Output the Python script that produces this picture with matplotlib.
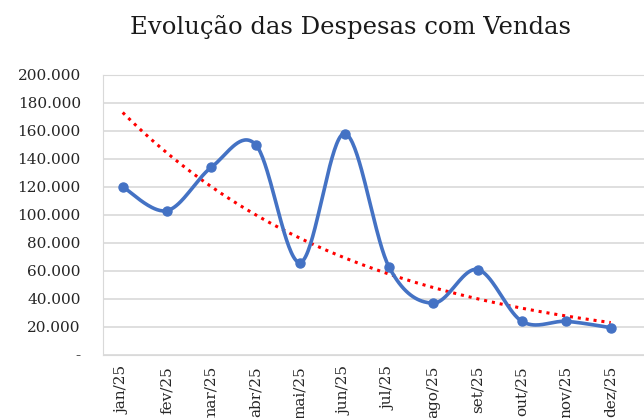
import numpy as np
import matplotlib
matplotlib.use("Agg")
import matplotlib.pyplot as plt
from matplotlib.ticker import FuncFormatter

# Monthly sales expenses (R$)
months = ['jan/25', 'fev/25', 'mar/25', 'abr/25', 'mai/25', 'jun/25',
          'jul/25', 'ago/25', 'set/25', 'out/25', 'nov/25', 'dez/25']
despesas = [120000, 103000, 134000, 150000, 66000, 158000,
            63000, 37000, 61000, 24000, 24000, 19500]

x = np.arange(1, len(months) + 1)
y = np.array(despesas, dtype=float)


# Excel-style smoothed line (Catmull-Rom as cubic Bezier)
def smooth(xs, ys, n=40):
    px = np.concatenate([[xs[0]], xs, [xs[-1]]])
    py = np.concatenate([[ys[0]], ys, [ys[-1]]])
    out_x, out_y = [], []
    t = np.linspace(0, 1, n)
    for i in range(1, len(px) - 2):
        p0 = np.array([px[i], py[i]])
        p3 = np.array([px[i + 1], py[i + 1]])
        c1 = p0 + (np.array([px[i + 1], py[i + 1]]) - np.array([px[i - 1], py[i - 1]])) / 6
        c2 = p3 - (np.array([px[i + 2], py[i + 2]]) - p0) / 6
        b = ((1 - t) ** 3)[:, None] * p0 + (3 * (1 - t) ** 2 * t)[:, None] * c1 \
            + (3 * (1 - t) * t ** 2)[:, None] * c2 + (t ** 3)[:, None] * p3
        out_x.extend(b[:, 0])
        out_y.extend(b[:, 1])
    return np.array(out_x), np.array(out_y)


sx, sy = smooth(x, y)

# exponential trendline
k, c = np.polyfit(x, np.log(y), 1)
tx = np.linspace(1, 12, 200)
ty = np.exp(c + k * tx)

fig = plt.figure(figsize=(6.44, 4.18), dpi=100)
ax = fig.add_axes([103 / 644, 1 - 355 / 418, 1 - 103 / 644, (355 - 74.7) / 418])

ax.set_ylim(0, 200000)
ax.set_xlim(0.556, 12.75)
ax.set_yticks(np.arange(0, 200001, 20000))
ax.yaxis.set_major_formatter(FuncFormatter(
    lambda v, p: '-' if v == 0 else f'{v:,.0f}'.replace(',', '.')))
ax.grid(axis='y', color='#d9d9d9', linewidth=1.2)
ax.set_axisbelow(True)
for s in ['left', 'bottom', 'top']:
    ax.spines[s].set_color('#d9d9d9')
ax.spines['right'].set_visible(False)
ax.tick_params(length=0, labelsize=11, colors='#262626')
ax.tick_params(axis='x', pad=8)
ax.tick_params(axis='y', pad=16)

ax.plot(tx, ty, color='#ff0000', linestyle=(0, (1, 1.6)), linewidth=2.2, zorder=2)
ax.plot(sx, sy, color='#4472c4', linewidth=2.6, zorder=3, solid_capstyle='round')
ax.plot(x, y, 'o', color='#4472c4', markersize=6.5, zorder=4)

ax.set_xticks(x)
ax.set_xticklabels(months, rotation=90, family='DejaVu Serif')
for lbl in ax.get_yticklabels():
    lbl.set_family('DejaVu Serif')

fig.text(0.545, 1 - 27 / 418, 'Evolução das Despesas com Vendas', family='DejaVu Serif',
         fontsize=17.5, ha='center', va='center', color='#1a1a1a')

fig.savefig('out.png', dpi=100)
